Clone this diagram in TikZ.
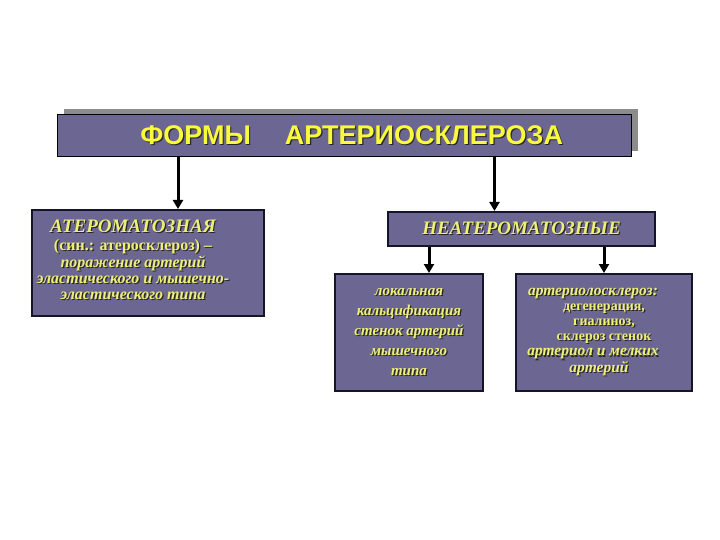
\documentclass[tikz,border=0pt]{standalone}
\usepackage{fontspec}
\setmainfont{Liberation Serif}
\newfontfamily\titlefont{Liberation Sans}
\usetikzlibrary{arrows.meta,positioning,shadows}
\definecolor{boxfill}{RGB}{108,102,146}
\definecolor{boxline}{RGB}{22,20,40}
\definecolor{txtyellow}{RGB}{238,240,118}
\definecolor{ttlyellow}{RGB}{250,250,60}
\newcommand{\shd}[1]{\makebox[0pt][l]{\kern1.2pt\raisebox{-1.2pt}{\color{black!85}#1}}#1}
\begin{document}
\begin{tikzpicture}[x=1pt,y=-1pt,
box/.style={draw=boxline,line width=2pt,fill=boxfill,anchor=north west,align=center,inner sep=2pt,text=txtyellow,
  font=\bfseries\itshape\fontsize{16}{16}\selectfont},
boxtext/.style={align=center,inner sep=0pt,text=txtyellow,font=\bfseries\itshape\fontsize{16}{16}\selectfont},
titlebox/.style={box,draw=black,line width=1.3pt,
  drop shadow={shadow xshift=6.5pt,shadow yshift=5.5pt,fill=black!45,opacity=1},
  text=ttlyellow,font=\titlefont\bfseries\fontsize{27}{30}\selectfont},
arrow/.style={-{Triangle[length=9pt,width=10pt]},line width=3pt,black}]
\path[fill=white,use as bounding box] (0,0) rectangle (720,540);
\node[titlebox,minimum width=574pt,minimum height=42pt] (title) at (57,114)
  {\hbox{\kern14pt\shd{ФОРМЫ}\kern34pt\shd{АРТЕРИОСКЛЕРОЗА}}};
\node[box,minimum width=232pt,minimum height=106pt] (ath) at (31,209) {};
\node[boxtext] (athtext) at ([xshift=-15pt,yshift=3pt]ath.center)
  {{\fontsize{19}{17}\selectfont\shd{АТЕРОМАТОЗНАЯ}}\\[2pt]
   {\upshape\shd{(син.: атеросклероз) –}}\\
   \shd{поражение артерий}\\
   \shd{эластического и мышечно-}\\
   \shd{эластического типа}};
\node[box,minimum width=267pt,minimum height=34pt,font=\bfseries\itshape\fontsize{19}{19}\selectfont] (neat) at (387,211)
  {\shd{НЕАТЕРОМАТОЗНЫЕ}};
\node[box,minimum width=148pt,minimum height=117pt,font=\bfseries\itshape\fontsize{15}{20}\selectfont] (loc) at (334,273)
  {\shd{локальная}\\ \shd{кальцификация}\\ \shd{стенок артерий}\\ \shd{мышечного}\\ \shd{типа}};
\node[box,minimum width=176pt,minimum height=117pt,font=\bfseries\fontsize{14}{15.2}\selectfont] (art) at (515,273)
  {\hbox{\itshape\fontsize{15.5}{15.2}\selectfont\shd{артериолосклероз:}\kern22pt}\\ \shd{дегенерация,}\\ \shd{гиалиноз,}\\
   \shd{склероз стенок}\\ \hbox{\itshape\fontsize{15.5}{15.2}\selectfont\shd{артериол и мелких}\kern22pt}\\
   \hbox{\itshape\fontsize{15.5}{15.2}\selectfont\shd{артерий}\kern10pt}};
\draw[arrow] ([xshift=30pt]ath.north |- title.south) -- ([xshift=30pt]ath.north);
\draw[arrow] ([xshift=-27pt]neat.north |- title.south) -- ([xshift=-27pt]neat.north);
\draw[arrow] ([xshift=20pt]loc.north |- neat.south) -- ([xshift=20pt]loc.north);
\draw[arrow] (art.north |- neat.south) -- (art.north);
\end{tikzpicture}
\end{document}
